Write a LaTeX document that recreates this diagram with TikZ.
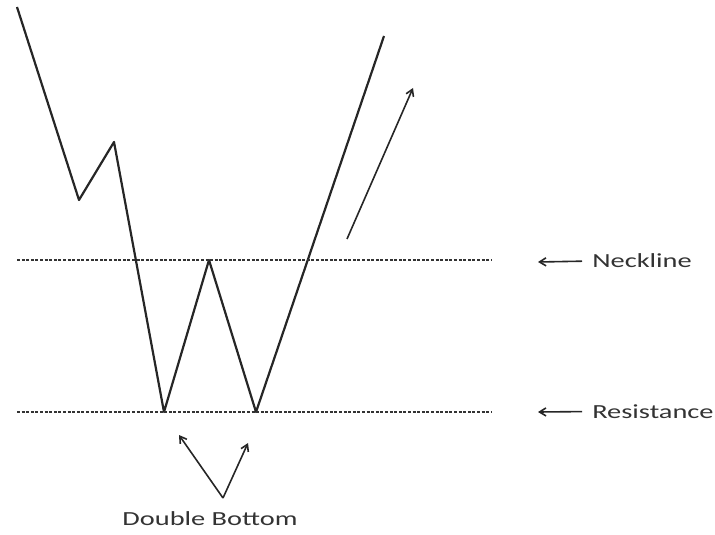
\documentclass[tikz,border=0pt]{standalone}
\usepackage{fontspec}
\setmainfont{Carlito}
\usepackage{tikz}
\usetikzlibrary{arrows.meta}
\tikzset{price/.style={line width=2.2pt,black!85},
  level/.style={line width=1.5pt,dash pattern=on 3pt off 1.6pt,black!80},
  pointer/.style={->,line width=1.6pt,black!85},
  lbl/.style={font=\fontsize{20}{24}\selectfont,xscale=1.42,inner sep=0pt,text=black!80}}

\begin{document}
\begin{tikzpicture}[x=1pt,y=-1pt,>={Straight Barb[length=6.5pt,width=8pt]},line join=round]
\useasboundingbox (0,0) rectangle (715,535);
% --- price path: fall, double bottom, breakout
\coordinate (p0) at (17,7); \coordinate (p1) at (79,200); \coordinate (p2) at (114,142);
\coordinate (b1) at (164,412); \coordinate (top) at (209,260); \coordinate (b2) at (256,412);
\coordinate (p6) at (384,36);
\draw[price] (p0) -- (p1) -- (p2) -- (b1) -- (top) -- (b2) -- (p6);
% --- levels
\draw[level] (17,260) -- (492,260);
\draw[level] (17,412) -- (492,412);
% --- breakout arrow
\coordinate (up0) at (347,239); \coordinate (up1) at (413,88);
\draw[pointer] (up0) -- (up1);
% --- labels
\node[lbl,anchor=west] (neck) at (592,261) {Neckline};
\coordinate (necktip) at (538,262);
\draw[pointer,shorten <=10pt] (neck.west) -- (necktip);
\node[lbl,anchor=west] (res) at (592,411.5) {Resistance};
\coordinate (restip) at (538,412);
\draw[pointer,shorten <=10pt] (res.west) -- (restip);
\node[lbl] (db) at (210,518.5) {Double Bottom};
\coordinate (dbapex) at (223,498); \coordinate (dbl) at (179,435); \coordinate (dbr) at (248,443);
\draw[pointer] (dbapex) -- (dbl);
\draw[pointer] (dbapex) -- (dbr);
\end{tikzpicture}
\end{document}
